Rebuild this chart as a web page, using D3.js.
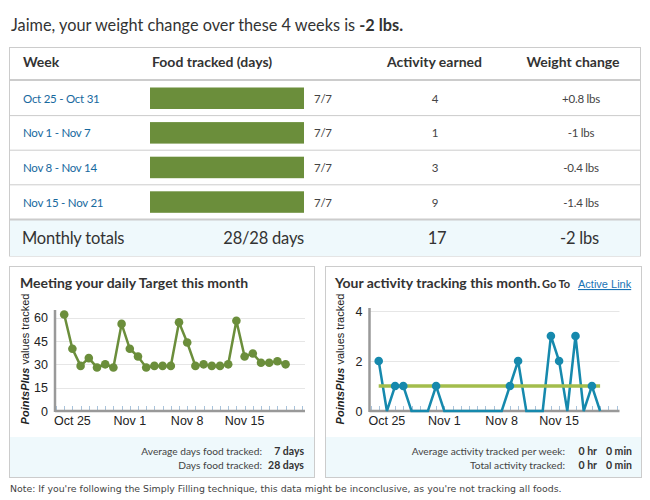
<!DOCTYPE html>
<html>
<head>
<meta charset="utf-8">
<script src="https://cdn.jsdelivr.net/npm/d3@7"></script>
<style>
  body { margin: 0; background: #fff; }
  svg { display: block; }
</style>
</head>
<body>
<div id="chart"></div>
<script>
const WIDTH = 650;
const HEIGHT = 500;
const UI_FONT = 'Lato, "Liberation Sans", sans-serif';
const AXIS_FONT = '"Liberation Sans", Arial, sans-serif';

// Weekly table
const weeks = ['Oct 25 - Oct 31', 'Nov 1 - Nov 7', 'Nov 8 - Nov 14', 'Nov 15 - Nov 21'];
const foodDays = [7, 7, 7, 7];
const activityEarned = [4, 1, 3, 9];
const weightChange = ['+0.8 lbs', '-1 lbs', '-0.4 lbs', '-1.4 lbs'];
const totals = { food: '28/28 days', activity: '17', weight: '-2 lbs' };

// Daily series (28 days)
const targetValues = [62, 40, 29, 34, 28, 30, 28, 56, 40, 35, 28, 29, 29, 29,
                      57, 44, 29, 30, 29, 29, 30, 58, 35, 37, 31, 31, 32, 30];
const activityValues = [2, 0, 1, 1, 0, 0, 0, 1, 0, 0, 0, 0, 0, 0,
                        0, 0, 1, 2, 0, 0, 0, 3, 2, 0, 3, 0, 1, 0];
const activityGoal = 1;

// x ticks
const dayTicks = d3.range(-1, 30);
const labelDays = [1, 8, 15, 22];
const labelText = ['Oct 25', 'Nov 1', 'Nov 8', 'Nov 15'];
const targetTicks = [0, 15, 30, 45, 60];
const activityTicks = [0, 2, 4];

const GREEN = '#6b8e3b';
const TEAL = '#1689ad';
const LIME = '#a3bd4c';
const BORDER = '#cccccc';
const PALE = '#eff9fc';
const LINK = '#17699e';

const svg = d3.select('#chart')
    .append('svg')
    .attr('width', WIDTH)
    .attr('height', HEIGHT)
    .style('font-family', UI_FONT)
    .style('fill', '#333');

// Title
const title = svg.append('text')
    .attr('x', 11)
    .attr('y', 31)
    .style('font-size', '16.3px')
    .style('fill', '#333');
title.append('tspan').text('Jaime, your weight change over these 4 weeks is ');
title.append('tspan').style('font-weight', 'bold').text('-2 lbs.');

// ---- Table ----
const table = svg.append('g');
table.append('rect')
    .attr('x', 9.5).attr('y', 47.5)
    .attr('width', 631).attr('height', 208.5)
    .style('fill', '#fff').style('stroke', BORDER);

const rowTop = 81;
const rowH = 34.6;
const rowY = d3.scaleLinear().domain([0, 1]).range([rowTop, rowTop + rowH]);
const barX = d3.scaleLinear().domain([0, 7]).range([150, 304]);

// totals band
table.append('rect')
    .attr('x', 10).attr('y', rowY(4))
    .attr('width', 630).attr('height', 256 - rowY(4))
    .style('fill', PALE);

const headers = [
    { text: 'Week', x: 23, anchor: 'start' },
    { text: 'Food tracked (days)', x: 152, anchor: 'start' },
    { text: 'Activity earned', x: 434.5, anchor: 'middle' },
    { text: 'Weight change', x: 573, anchor: 'middle' },
];
table.selectAll('text.head')
    .data(headers)
    .enter()
    .append('text')
    .attr('class', 'head')
    .attr('x', d => d.x)
    .attr('y', 67)
    .attr('text-anchor', d => d.anchor)
    .style('font-size', '14px')
    .style('font-weight', 'bold')
    .text(d => d.text);

// header bottom border
table.append('line')
    .attr('x1', 10).attr('x2', 640)
    .attr('y1', 80).attr('y2', 80)
    .style('stroke', BORDER).style('stroke-width', 2);

const rows = table.selectAll('g.row')
    .data(weeks)
    .enter()
    .append('g')
    .attr('class', 'row')
    .attr('transform', (d, i) => `translate(0,${rowY(i)})`);

rows.append('line')
    .attr('x1', 10).attr('x2', 640)
    .attr('y1', rowH).attr('y2', rowH)
    .style('stroke', BORDER)
    .style('stroke-width', (d, i) => i === weeks.length - 1 ? 2 : 1);

const cellText = sel => sel
    .attr('y', rowH / 2 + 4.5)
    .style('font-size', '11.5px')
    .style('letter-spacing', '-0.25px');

rows.append('text')
    .call(cellText)
    .attr('x', 23)
    .style('fill', LINK)
    .text(d => d);

rows.append('rect')
    .attr('x', barX(0))
    .attr('y', 6.5)
    .attr('width', (d, i) => barX(foodDays[i]) - barX(0))
    .attr('height', 21.5)
    .style('fill', GREEN);

rows.append('text')
    .call(cellText)
    .attr('x', 314)
    .style('fill', '#444')
    .text((d, i) => `${foodDays[i]}/7`);

rows.append('text')
    .call(cellText)
    .attr('x', 435)
    .attr('text-anchor', 'middle')
    .style('fill', '#444')
    .text((d, i) => activityEarned[i]);

rows.append('text')
    .call(cellText)
    .attr('x', 581)
    .attr('text-anchor', 'middle')
    .style('fill', '#444')
    .text((d, i) => weightChange[i]);

const totalsY = rowY(4) + 25;
const totalText = sel => sel
    .attr('y', totalsY)
    .style('font-size', '16.5px')
    .style('letter-spacing', '-0.2px')
    .style('fill', '#333');
table.append('text').call(totalText).attr('x', 22).text('Monthly totals');
table.append('text').call(totalText).attr('x', 304)
    .attr('text-anchor', 'end').text(totals.food);
table.append('text').call(totalText).attr('x', 437)
    .attr('text-anchor', 'middle').text(totals.activity);
table.append('text').call(totalText).attr('x', 579.5)
    .attr('text-anchor', 'middle').text(totals.weight);

// ---- Panels ----
function drawPanel(cfg) {
    const g = svg.append('g');
    g.append('rect')
        .attr('x', cfg.x + 0.5).attr('y', 266.5)
        .attr('width', cfg.w).attr('height', 211)
        .style('fill', '#fff').style('stroke', BORDER);
    g.append('rect')
        .attr('x', cfg.x + 1).attr('y', 437)
        .attr('width', cfg.w - 1).attr('height', 40)
        .style('fill', PALE);

    g.append('text')
        .attr('x', cfg.titleX).attr('y', 288)
        .style('font-size', '14px')
        .style('font-weight', 'bold')
        .text(cfg.title);

    const x = d3.scaleLinear().domain([-1, 29]).range(cfg.xRange);
    const y = d3.scaleLinear().domain(cfg.yDomain).range([411, cfg.yTop]);

    // grid
    g.selectAll('line.grid')
        .data(cfg.yTicks.filter(v => v > 0))
        .enter()
        .append('line')
        .attr('x1', cfg.xRange[0] - 1).attr('x2', cfg.xRange[1] + 3)
        .attr('y1', d => Math.round(y(d)) + 0.5).attr('y2', d => Math.round(y(d)) + 0.5)
        .style('stroke', '#e6e6e6');

    // x tick marks
    g.selectAll('line.xtick')
        .data(dayTicks)
        .enter()
        .append('line')
        .attr('x1', d => Math.round(x(d)) + 0.5).attr('x2', d => Math.round(x(d)) + 0.5)
        .attr('y1', 406).attr('y2', 410)
        .style('stroke', '#a9c3db');

    // axes
    g.append('line')
        .attr('x1', cfg.xRange[0] - 1).attr('x2', cfg.xRange[1] + 3)
        .attr('y1', 411).attr('y2', 411)
        .style('stroke', '#999').style('stroke-width', 2.5);
    g.append('line')
        .attr('x1', cfg.xRange[0] - 1).attr('x2', cfg.xRange[0] - 1)
        .attr('y1', cfg.yTop - 3).attr('y2', 412)
        .style('stroke', '#999').style('stroke-width', 2.5);

    g.selectAll('text.ylab')
        .data(cfg.yTicks)
        .enter()
        .append('text')
        .attr('x', cfg.xRange[0] - 8)
        .attr('y', d => y(d) + 4.5)
        .attr('text-anchor', 'end')
        .style('font-family', AXIS_FONT)
        .style('font-size', '12.5px')
        .style('fill', '#222')
        .text(d => d);

    g.selectAll('text.xlab')
        .data(labelDays)
        .enter()
        .append('text')
        .attr('x', d => x(d))
        .attr('y', 425)
        .attr('text-anchor', 'middle')
        .style('font-family', AXIS_FONT)
        .style('font-size', '12.5px')
        .style('fill', '#222')
        .text((d, i) => labelText[i]);

    const yt = g.append('text')
        .attr('transform', `translate(${cfg.xRange[0] - 27},359) rotate(-90)`)
        .attr('text-anchor', 'middle')
        .style('font-family', AXIS_FONT)
        .style('font-size', '11px')
        .style('fill', '#222');
    yt.append('tspan').style('font-weight', 'bold').style('font-style', 'italic').text('PointsPlus');
    yt.append('tspan').text(' values tracked');

    // footer stats
    cfg.stats.forEach((s, i) => {
        g.append('text')
            .attr('x', cfg.statLabelX).attr('y', 455 + i * 14)
            .attr('text-anchor', 'end')
            .style('font-size', '10.2px')
            .style('fill', '#444')
            .text(s.label);
        s.values.forEach((v, j) => {
            g.append('text')
                .attr('x', cfg.statValueX[j]).attr('y', 455 + i * 14)
                .attr('text-anchor', 'end')
                .style('font-size', '10.5px')
                .style('font-weight', 'bold')
                .style('fill', '#333')
                .text(v);
        });
    });

    return { g, x, y };
}

// Left panel: daily target
const left = drawPanel({
    x: 9, w: 305, titleX: 20,
    title: 'Meeting your daily Target this month',
    xRange: [56, 302], yDomain: [0, 63], yTop: 313, yTicks: targetTicks,
    statLabelX: 262, statValueX: [304],
    stats: [
        { label: 'Average days food tracked:', values: ['7 days'] },
        { label: 'Days food tracked:', values: ['28 days'] },
    ],
});

const targetLine = d3.line()
    .x((d, i) => left.x(i))
    .y(d => left.y(d));

left.g.append('path')
    .datum(targetValues)
    .attr('d', targetLine)
    .style('fill', 'none')
    .style('stroke', GREEN)
    .style('stroke-width', 2.5);

left.g.selectAll('circle')
    .data(targetValues)
    .enter()
    .append('circle')
    .attr('cx', (d, i) => left.x(i))
    .attr('cy', d => left.y(d))
    .attr('r', 4.3)
    .style('fill', GREEN);

// Right panel: activity
const right = drawPanel({
    x: 325, w: 316, titleX: 335,
    title: 'Your activity tracking this month.',
    xRange: [370.5, 616.5], yDomain: [0, 4], yTop: 311, yTicks: activityTicks,
    statLabelX: 565, statValueX: [597, 632],
    stats: [
        { label: 'Average activity tracked per week:', values: ['0 hr', '0 min'] },
        { label: 'Total activity tracked:', values: ['0 hr', '0 min'] },
    ],
});

const activityLine = d3.line()
    .x((d, i) => right.x(i))
    .y(d => right.y(d));

right.g.append('path')
    .datum(activityValues)
    .attr('d', activityLine)
    .style('fill', 'none')
    .style('stroke', TEAL)
    .style('stroke-width', 2.5);

right.g.append('line')
    .attr('x1', right.x(0)).attr('x2', right.x(activityValues.length - 1))
    .attr('y1', right.y(activityGoal)).attr('y2', right.y(activityGoal))
    .style('stroke', LIME)
    .style('stroke-width', 3.5);

right.g.selectAll('circle')
    .data(activityValues.map((v, i) => ({ v, i })).filter(d => d.v > 0))
    .enter()
    .append('circle')
    .attr('cx', d => right.x(d.i))
    .attr('cy', d => right.y(d.v))
    .attr('r', 4.3)
    .style('fill', TEAL);

// "Go To" link next to the right title
svg.append('text')
    .attr('x', 542).attr('y', 288)
    .style('font-size', '11px').style('font-weight', 'bold')
    .text('Go To');
svg.append('text')
    .attr('x', 578).attr('y', 288)
    .style('font-family', AXIS_FONT)
    .style('font-size', '11px')
    .style('fill', '#1a73b5')
    .style('text-decoration', 'underline')
    .text('Active Link');

// Footnote
svg.append('text')
    .attr('x', 10).attr('y', 492)
    .style('font-family', '"DejaVu Sans", Verdana, sans-serif')
    .style('font-size', '9.4px')
    .style('fill', '#444')
    .text("Note: If you're following the Simply Filling technique, this data might be inconclusive, as you're not tracking all foods.");
</script>
</body>
</html>
